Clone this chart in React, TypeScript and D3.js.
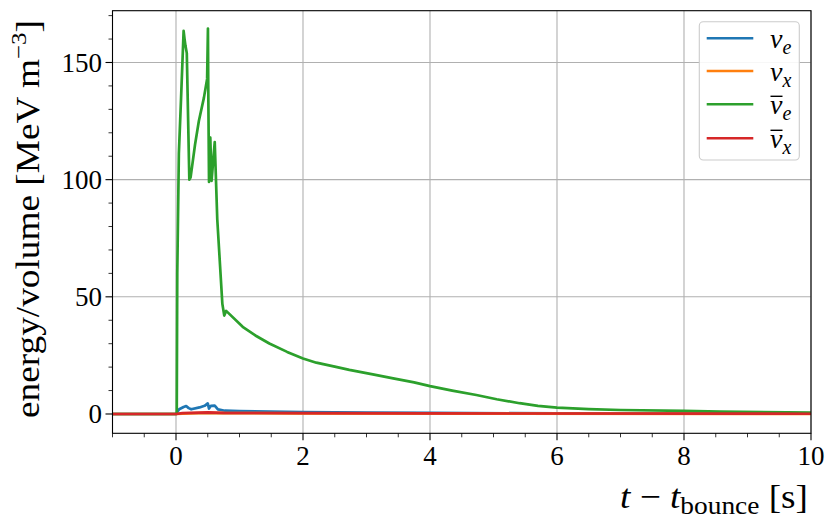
import React, { useEffect } from "react";
import * as d3 from "d3";

const W = 834;
const H = 527;

// time axis (t - t_bounce) in seconds
const tGreen = [-1, 0.0, 0.012, 0.02, 0.045, 0.08, 0.12, 0.135, 0.15, 0.17, 0.21, 0.23, 0.3, 0.36, 0.44, 0.49, 0.503, 0.508, 0.52, 0.54, 0.56, 0.61, 0.65, 0.73, 0.76, 0.79, 1.05, 1.25, 1.47, 1.75, 2.0, 2.21, 2.5, 2.73, 3.1, 3.42, 3.75, 4.0, 4.35, 4.73, 5.05, 5.41, 5.7, 6.0, 6.5, 7.0, 8.0, 8.57, 10];
const vGreen = [0, 0, 0.5, 60, 111, 135, 163.5, 160, 157, 154, 100, 101, 115, 125, 135, 143, 164.5, 140, 99, 118, 99.5, 116, 83, 47, 42, 44, 37.2, 33.5, 30.1, 26.5, 23.7, 21.9, 20.2, 18.8, 16.9, 15.2, 13.5, 11.9, 10.0, 8.1, 6.3, 4.6, 3.5, 2.7, 2.1, 1.7, 1.3, 1.0, 0.6];

const tBlue = [-1, 0, 0.05, 0.12, 0.16, 0.2, 0.24, 0.37, 0.45, 0.5, 0.52, 0.55, 0.61, 0.66, 0.77, 1.0, 2.0, 3.0, 4.0, 6.0, 8.0, 10];
const vBlue = [0, 0, 2.0, 3.0, 3.4, 2.5, 2.0, 2.8, 3.5, 4.5, 2.3, 3.5, 3.6, 2.0, 1.4, 1.2, 0.8, 0.6, 0.45, 0.25, 0.15, 0.1];

const tOrange = [-1, 0, 0.2, 0.5, 0.8, 2.0, 5.0, 10];
const vOrange = [0, 0, 0.3, 0.5, 0.4, 0.3, 0.15, 0.05];

const tRed = [-1, 0, 0.1, 0.5, 0.75, 2.0, 4.0, 10];
const vRed = [0, 0, 0.4, 0.7, 0.45, 0.4, 0.25, 0.1];

const seriesNames = ["nu_e", "nu_x", "nubar_e", "nubar_x"];
const seriesColors = ["#1f77b4", "#ff7f0e", "#2ca02c", "#d62728"];
const legendSub = ["e", "x", "e", "x"];
const legendBar = [false, false, true, true];

const xTicks = [0, 2, 4, 6, 8, 10];
const yTicks = [0, 50, 100, 150];

const FONT = "Liberation Serif, Times New Roman, serif";

export default function App() {
  useEffect(() => {
    document.body.style.margin = "0";
  }, []);

  const left = 112.5, right = 811, top = 10.7, bottom = 433.3;
  const x = d3.scaleLinear().domain([-1, 10]).range([left, right]);
  const y = d3.scaleLinear().domain([-8.24, 172.1]).range([bottom, top]);

  const mk = (ts: number[], vs: number[]) =>
    d3.line<number>().x((_, i) => x(ts[i])).y((v) => y(v))(vs) || "";

  const paths = [
    { d: mk(tBlue, vBlue), c: seriesColors[0] },
    { d: mk(tOrange, vOrange), c: seriesColors[1] },
    { d: mk(tGreen, vGreen), c: seriesColors[2] },
    { d: mk(tRed, vRed), c: seriesColors[3] },
  ];

  const xMinor = d3.range(-1, 10.001, 0.5).filter((v) => !xTicks.some((t) => Math.abs(t - v) < 1e-6));
  const yMinor = d3.range(-0, 172, 10).filter((v) => !yTicks.includes(v));

  const legendX0 = 699.3, legendY0 = 21.7, legendW = 100, legendH = 138.3;
  const entryY = [38.3, 71, 104.3, 138.3];

  return (
    <svg width={W} height={H} style={{ display: "block", background: "#fff", fontFamily: FONT }}>
      <defs>
        <clipPath id="plotclip">
          <rect x={left} y={top} width={right - left} height={bottom - top} />
        </clipPath>
      </defs>
      {/* grid */}
      {xTicks.map((t) => (
        <line key={"gx" + t} x1={x(t)} x2={x(t)} y1={top} y2={bottom} stroke="#b0b0b0" strokeWidth={1.1} />
      ))}
      {yTicks.map((t) => (
        <line key={"gy" + t} x1={left} x2={right} y1={y(t)} y2={y(t)} stroke="#b0b0b0" strokeWidth={1.1} />
      ))}
      {/* series */}
      <g clipPath="url(#plotclip)">
        {paths.map((p, i) => (
          <path key={seriesNames[i]} d={p.d} fill="none" stroke={p.c} strokeWidth={2.7} strokeLinejoin="round" />
        ))}
      </g>
      {/* frame */}
      <rect x={left} y={top} width={right - left} height={bottom - top} fill="none" stroke="#000" strokeWidth={1.1} />
      {/* x ticks */}
      {xTicks.map((t) => (
        <g key={"xt" + t}>
          <line x1={x(t)} x2={x(t)} y1={bottom} y2={bottom + 7} stroke="#000" strokeWidth={1.1} />
          <text x={x(t)} y={465} textAnchor="middle" fontSize={27}>{t}</text>
        </g>
      ))}
      {xMinor.map((t) => (
        <line key={"xm" + t} x1={x(t)} x2={x(t)} y1={bottom} y2={bottom + 4} stroke="#000" strokeWidth={0.8} />
      ))}
      {/* y ticks */}
      {yTicks.map((t) => (
        <g key={"yt" + t}>
          <line x1={left - 7} x2={left} y1={y(t)} y2={y(t)} stroke="#000" strokeWidth={1.1} />
          <text x={102} y={y(t)} dy="0.35em" textAnchor="end" fontSize={27}>{t}</text>
        </g>
      ))}
      {yMinor.map((t) => (
        <line key={"ym" + t} x1={left - 4} x2={left} y1={y(t)} y2={y(t)} stroke="#000" strokeWidth={0.8} />
      ))}
      {/* y label */}
      <g transform="translate(39,219) rotate(-90)">
        <text textAnchor="middle" fontSize={33} textLength={398} lengthAdjust="spacingAndGlyphs">
          energy/volume [MeV m<tspan dy={-13} fontSize={22}>−3</tspan><tspan dy={13}>]</tspan>
        </text>
      </g>
      {/* x label */}
      <text x={808} y={508} textAnchor="end" fontSize={34} textLength={188} lengthAdjust="spacingAndGlyphs">
        <tspan fontStyle="italic">t</tspan> − <tspan fontStyle="italic">t</tspan>
        <tspan dy={6} fontSize={25}>bounce</tspan>
        <tspan dy={-6}> [s]</tspan>
      </text>
      {/* legend */}
      <rect x={legendX0} y={legendY0} width={legendW} height={legendH} rx={4} fill="#fff" fillOpacity={0.9} stroke="#cccccc" strokeWidth={1.1} />
      {seriesNames.map((n, i) => (
        <g key={"lg" + n}>
          <line x1={706.7} x2={753.3} y1={entryY[i]} y2={entryY[i]} stroke={seriesColors[i]} strokeWidth={2.6} />
          <text x={770} y={entryY[i] + 10} fontSize={28} fontStyle="italic">
            ν<tspan dy={6} fontSize={20}>{legendSub[i]}</tspan>
          </text>
          {legendBar[i] && (
            <line x1={770.5} x2={782.5} y1={entryY[i] - 8} y2={entryY[i] - 8} stroke="#000" strokeWidth={1.4} />
          )}
        </g>
      ))}
    </svg>
  );
}
